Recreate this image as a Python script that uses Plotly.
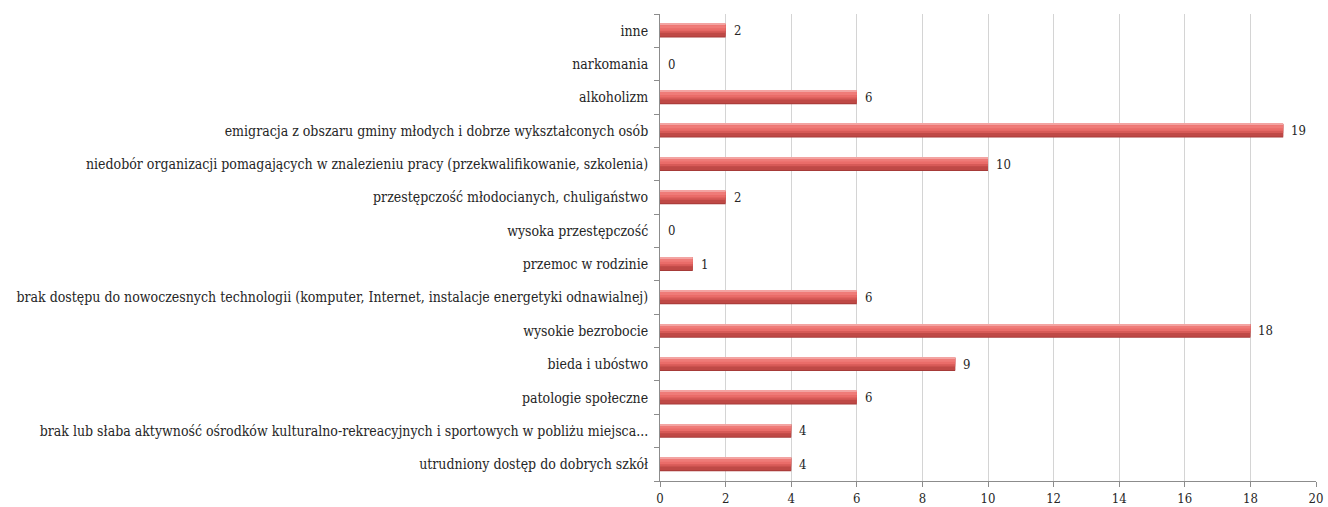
import plotly.graph_objects as go

# Categories listed bottom-to-top as they appear on the vertical axis
categories = [
    "utrudniony dostęp do dobrych szkół",
    "brak lub słaba aktywność ośrodków kulturalno-rekreacyjnych i sportowych w pobliżu miejsca...",
    "patologie społeczne",
    "bieda i ubóstwo",
    "wysokie bezrobocie",
    "brak dostępu do nowoczesnych technologii (komputer, Internet, instalacje energetyki odnawialnej)",
    "przemoc w rodzinie",
    "wysoka przestępczość",
    "przestępczość młodocianych, chuligaństwo",
    "niedobór organizacji pomagających w znalezieniu pracy (przekwalifikowanie, szkolenia)",
    "emigracja z obszaru gminy młodych i dobrze wykształconych osób",
    "alkoholizm",
    "narkomania",
    "inne",
]
counts = [4, 4, 6, 9, 18, 6, 1, 0, 2, 10, 19, 6, 0, 2]
x_ticks = list(range(0, 21, 2))

FONT = "DejaVu Serif Condensed"
FS = 14
TEXT = "#262626"

fig = go.Figure()

# Layered bars give the shaded, rounded look of each bar
layers = [
    # (width, offset, colour)
    (0.41, -0.205, "#a63a38"),
    (0.37, -0.175, "#bf4946"),
    (0.26, -0.065, "#d75a57"),
    (0.20, 0.0, "#ea6c69"),
    (0.09, 0.075, "#ef7b78"),
    (0.03, 0.175, "#f3a4a2"),
]
for w, off, col in layers:
    fig.add_trace(go.Bar(
        x=counts, y=categories, orientation="h",
        width=w, offset=off,
        marker=dict(color=col, line=dict(width=0)),
        hoverinfo="skip", showlegend=False,
    ))

# Value labels at the end of each bar
for c, v in zip(categories, counts):
    fig.add_annotation(
        x=v, y=c, text=str(v), showarrow=False,
        xanchor="left", xshift=6, yshift=0,
        font=dict(family=FONT, size=FS - 1, color=TEXT),
    )

fig.update_layout(
    width=1328, height=507,
    margin=dict(l=660, r=12, t=14, b=26),
    barmode="overlay",
    plot_bgcolor="white", paper_bgcolor="white",
    font=dict(family=FONT, size=FS, color=TEXT),
    xaxis=dict(
        range=[0, 20], tickvals=x_ticks,
        showgrid=True, gridcolor="#d4d4d4", gridwidth=1,
        showline=True, linecolor="#8c8c8c", linewidth=1,
        ticks="outside", ticklen=5, tickcolor="#8c8c8c",
        zeroline=False, fixedrange=True, automargin=False,
        tickfont=dict(family=FONT, size=FS - 1, color=TEXT),
    ),
    yaxis=dict(
        type="category", categoryorder="array", categoryarray=categories,
        range=[-0.5, len(categories) - 0.5],
        showline=True, linecolor="#8c8c8c", linewidth=1,
        ticks="outside", ticklen=5, tickcolor="#8c8c8c",
        tickson="boundaries", showgrid=False, zeroline=False,
        automargin=False, ticklabelstandoff=8,
        tickfont=dict(family=FONT, size=FS, color=TEXT),
    ),
)

fig.write_html("out.html")
